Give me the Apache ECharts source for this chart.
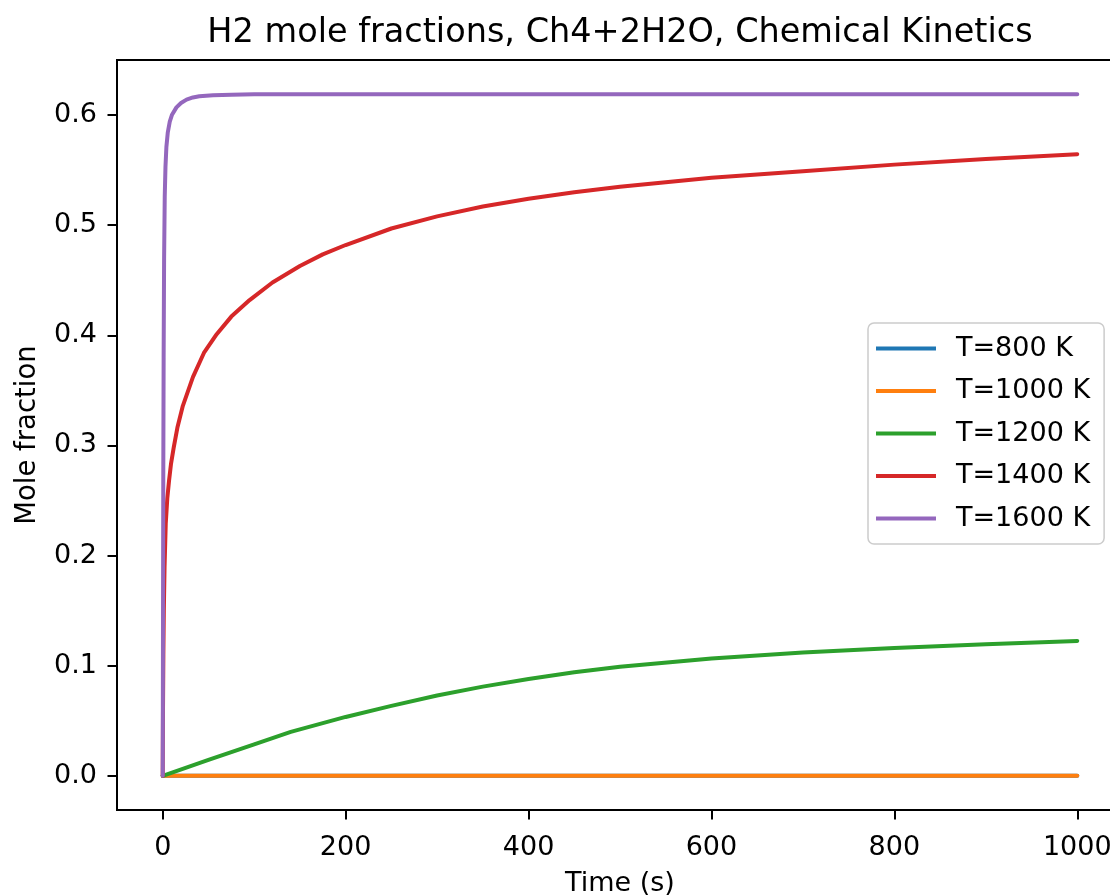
<!DOCTYPE html>
<html>
<head>
<meta charset="utf-8">
<script src="https://cdn.jsdelivr.net/npm/echarts@6/dist/echarts.min.js"></script>
<style>html,body{margin:0;padding:0;background:#fff;}#c{width:1110px;height:895px;}</style>
</head>
<body>
<div id="c"></div>
<script>
// ---- data ----
const seriesNames = ['T=800 K', 'T=1000 K', 'T=1200 K', 'T=1400 K', 'T=1600 K'];
const seriesColors = ['#1f77b4', '#ff7f0e', '#2ca02c', '#d62728', '#9467bd'];

const t800 = [0, 1000];
const h2_800 = [0, 0];

const t1000 = [0, 1000];
const h2_1000 = [0, 0];

const t1200 = [0, 50, 100, 140, 200, 250, 300, 350, 400, 450, 500, 600, 700, 800, 900, 1000];
const h2_1200 = [0, 0.0145, 0.0285, 0.040, 0.0535, 0.0635, 0.073, 0.081, 0.088, 0.094, 0.099, 0.1065, 0.112, 0.116, 0.1195, 0.1225];

const t1400 = [0, 0.3, 0.7, 1.2, 2, 3.3, 5, 6.9, 9, 12, 16, 22, 33, 45, 59, 75, 95, 120, 150, 175, 200, 250, 300, 350, 400, 450, 500, 550, 600, 700, 800, 900, 1000];
const h2_1400 = [0, 0.06, 0.11, 0.15, 0.19, 0.229, 0.252, 0.268, 0.283, 0.298, 0.316, 0.336, 0.362, 0.384, 0.401, 0.417, 0.432, 0.448, 0.463, 0.4735, 0.482, 0.497, 0.508, 0.517, 0.524, 0.530, 0.535, 0.539, 0.543, 0.549, 0.555, 0.560, 0.5645];

const t1600 = [0, 0.3, 0.6, 1, 1.5, 2.2, 3, 4, 5.5, 7.7, 10, 15, 20, 26, 33, 40, 55, 75, 100, 150, 250, 400, 600, 800, 1000];
const h2_1600 = [0, 0.14, 0.27, 0.38, 0.47, 0.526, 0.553, 0.571, 0.584, 0.594, 0.600, 0.607, 0.611, 0.614, 0.616, 0.617, 0.618, 0.6185, 0.619, 0.619, 0.619, 0.619, 0.619, 0.619, 0.619];

const xTicks = [0, 200, 400, 600, 800, 1000];
const yTicks = [0, 0.1, 0.2, 0.3, 0.4, 0.5, 0.6];

const titleText = 'H2 mole fractions, Ch4+2H2O, Chemical Kinetics';
const xName = 'Time (s)';
const yName = 'Mole fraction';

// ---- build ----
const times = [t800, t1000, t1200, t1400, t1600];
const values = [h2_800, h2_1000, h2_1200, h2_1400, h2_1600];
const FONT = 'DejaVu Sans';

const series = seriesNames.map((name, i) => ({
  name: name,
  type: 'line',
  data: times[i].map((t, k) => [t, values[i][k]]),
  showSymbol: false,
  symbol: 'none',
  smooth: false,
  lineStyle: { color: seriesColors[i], width: 4, join: 'round', cap: 'round' },
  itemStyle: { color: seriesColors[i] },
  emphasis: { disabled: true },
  z: 2 + i
}));

const chart = echarts.init(document.getElementById('c'), null, { renderer: 'canvas' });
chart.setOption({
  animation: false,
  backgroundColor: '#ffffff',
  title: {
    text: titleText,
    left: 620,
    top: 16,
    padding: 0,
    textAlign: 'center',
    textStyle: { fontFamily: FONT, fontSize: 33.5, fontWeight: 'normal', color: '#000' }
  },
  grid: {
    left: 117, top: 60, width: 1006, height: 750,
    show: true, borderColor: '#000', borderWidth: 2, backgroundColor: 'transparent',
    containLabel: false,
    outerBoundsMode: 'none'
  },
  legend: {
    orient: 'vertical',
    left: 868,
    top: 323,
    padding: [12, 14, 12, 8],
    itemWidth: 60,
    itemHeight: 30,
    itemGap: 15.5,
    icon: 'path://M0,0 H60 V4 H0 Z',
    symbolKeepAspect: true,
    backgroundColor: 'rgba(255,255,255,0.8)',
    borderColor: '#cccccc',
    borderWidth: 1.5,
    borderRadius: 6,
    textStyle: { fontFamily: FONT, fontSize: 27, color: '#000', padding: [0, 0, 0, 15] },
    data: seriesNames
  },
  xAxis: {
    type: 'value',
    min: -50,
    max: 1050,
    name: xName,
    nameLocation: 'middle',
    nameGap: 60,
    nameTextStyle: { fontFamily: FONT, fontSize: 27, color: '#000' },
    axisLine: { show: true, onZero: false, lineStyle: { color: '#000', width: 2 } },
    axisTick: { show: true, inside: false, length: 9.5, customValues: xTicks, lineStyle: { color: '#000', width: 2 } },
    axisLabel: { show: true, margin: 24, customValues: xTicks, fontFamily: FONT, fontSize: 27, color: '#000',
      hideOverlap: false, formatter: v => String(v) },
    splitLine: { show: false }
  },
  yAxis: {
    type: 'value',
    min: -0.031,
    max: 0.650,
    name: yName,
    nameLocation: 'middle',
    nameGap: 75,
    nameRotate: 90,
    nameTextStyle: { fontFamily: FONT, fontSize: 27.5, color: '#000' },
    axisLine: { show: true, onZero: false, lineStyle: { color: '#000', width: 2 } },
    axisTick: { show: true, inside: false, length: 9.5, customValues: yTicks, lineStyle: { color: '#000', width: 2 } },
    axisLabel: { show: true, margin: 20, customValues: yTicks, fontFamily: FONT, fontSize: 27, color: '#000',
      formatter: v => v.toFixed(1) },
    splitLine: { show: false }
  },
  series: series
});
</script>
</body>
</html>
